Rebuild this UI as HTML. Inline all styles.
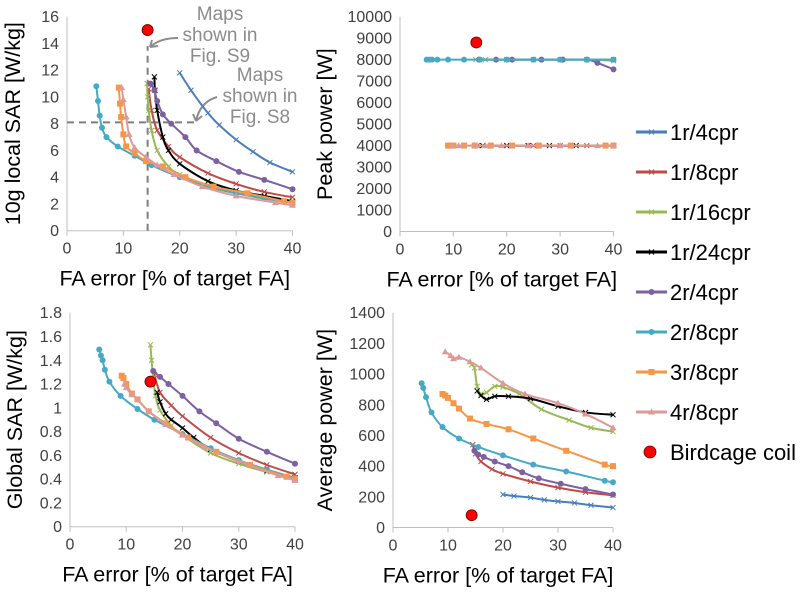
<!DOCTYPE html>
<html><head><meta charset="utf-8">
<style>
html,body{margin:0;padding:0;background:#fff;}
svg{display:block;font-family:"Liberation Sans",sans-serif;}
.tick{font-size:16px;fill:#404040;}
.title{font-size:21.5px;fill:#000;}
.leg{font-size:22px;fill:#000;}
.ann{font-size:19px;fill:#8c8c8c;}
</style></head>
<body>
<svg id="chart" width="800" height="593" viewBox="0 0 800 593" xmlns="http://www.w3.org/2000/svg"></svg>
<script>
// ---- data ----
const seriesNames = ["1r/4cpr","1r/8cpr","1r/16cpr","1r/24cpr","2r/4cpr","2r/8cpr","3r/8cpr","4r/8cpr"];
const seriesColors = ["#4a7ebb","#be4b48","#98b954","#000000","#7d60a0","#46aac5","#f79646","#dd9a98"];
const seriesMarkers = ["x","x","x","x","o","o","s","t"];

// Panel: 10g local SAR
const localSAR = [
 [[20,11.8],[22,10.5],[25,8.8],[27,7.9],[30,6.8],[33,5.9],[36,5.1],[40,4.4]],
 [[14.5,10.6],[15,9],[16,7.5],[18,6.3],[20,5.5],[25,4.3],[30,3.5],[35,2.9],[40,2.5]],
 [[14.2,11],[14.3,10],[14.5,9],[15,7.5],[16,6],[18,4.8],[20,4.2],[25,3.3],[30,2.8],[35,2.5],[40,2.2]],
 [[15.5,11.5],[15.6,10.5],[16,9],[17,7],[18,6],[20,5],[25,3.7],[30,3],[35,2.6],[40,2.2]],
 [[14.8,11],[15.5,10.5],[16,9.7],[17,8.7],[18.5,8],[21,7],[23,6],[26.5,5.2],[30.5,4.4],[35,3.8],[40,3.1]],
 [[5.2,10.8],[5.5,9.7],[5.8,8.6],[6.2,7.7],[7,7],[9,6.3],[12,5.6],[15,4.9],[20,4],[25,3.3],[30,2.8],[35,2.4],[40,2.1]],
 [[9.2,10.7],[9.4,9.5],[9.6,8.5],[10,7.2],[10.5,6.3],[12,5.8],[14,5.2],[17,4.8],[21,4],[26,3.3],[32,2.8],[38.5,2.2],[40,2.1]],
 [[9.7,10.7],[10,9.8],[10.5,8.5],[11,7.2],[12,6.2],[14,5.5],[16,4.9],[19,4.2],[24,3.3],[30,2.6],[37,2.1],[40,1.9]]
];
const localSARBirdcage = [14.3,15];
const localSARTicks = [0,2,4,6,8,10,12,14,16];

// Panel: peak power
const peakPower = [
 [[20,8000],[25,8000],[30,8000],[35,8000],[40,8000]],
 [[14.5,4000],[20,4000],[25,4000],[30,4000],[35,4000],[40,4000]],
 [[14.2,8000],[16,8000],[20,8000],[25,8000],[30,8000],[35,8000],[40,7950]],
 [[15.5,4000],[20,4000],[24,4000],[28,4000],[33,4000],[40,4000]],
 [[14.8,8000],[18,8000],[21,8000],[26.5,8000],[30.5,8000],[35,8000],[37,7850],[40,7550]],
 [[5,8000],[5.5,8000],[6,8000],[7,8000],[9,8000],[12,8000],[15,8000],[20,8000],[25,8000],[30,8000],[35,8000],[40,8000]],
 [[9,4000],[9.5,4000],[10,4000],[12,4000],[14,4000],[17,4000],[21,4000],[26,4000],[32,4000],[38.5,4000],[40,4000]],
 [[9.7,4000],[11,4000],[14,4000],[16,4000],[19,4000],[24,4000],[30,4000],[37,4000],[40,4000]]
];
const peakPowerBirdcage = [14.3,8800];
const peakPowerTicks = [0,1000,2000,3000,4000,5000,6000,7000,8000,9000,10000];

// Panel: global SAR
const globalSAR = [
 [],
 [[15,1.28],[16,1.13],[18,1.02],[20,0.93],[25,0.75],[30,0.62],[35,0.52],[40,0.44]],
 [[14.3,1.53],[14.5,1.4],[14.8,1.25],[15.2,1.1],[16,0.98],[18,0.85],[20,0.77],[25,0.62],[30,0.53],[35,0.46],[40,0.41]],
 [[15.5,1.13],[16,1.05],[17,0.95],[18,0.9],[20,0.83],[22,0.75],[25,0.65],[30,0.55],[35,0.47],[40,0.41]],
 [[14.8,1.31],[16,1.26],[17.5,1.2],[20,1.1],[23,0.97],[26,0.87],[30,0.74],[35,0.63],[40,0.53]],
 [[5.2,1.49],[5.5,1.44],[5.8,1.4],[6.2,1.32],[7,1.22],[9,1.1],[12,0.99],[15,0.9],[20,0.78],[25,0.66],[30,0.56],[35,0.48],[40,0.41]],
 [[9.2,1.27],[9.5,1.25],[10,1.2],[11,1.12],[12,1.07],[14,0.97],[17,0.87],[21,0.75],[26,0.63],[32,0.52],[38.5,0.42],[40,0.4]],
 [[9.7,1.2],[10,1.17],[11,1.11],[12,1.07],[14,0.97],[17,0.86],[20,0.77],[24,0.67],[30,0.55],[37,0.43],[40,0.39]]
];
const globalSARBirdcage = [14.3,1.22];
const globalSARTicks = [0,0.2,0.4,0.6,0.8,1,1.2,1.4,1.6,1.8];

// Panel: average power
const avgPower = [
 [[20,215],[22,205],[25,195],[27.5,180],[30,170],[33,160],[36,145],[40,130]],
 [[14.5,540],[15,480],[16,430],[18,380],[20,350],[25,300],[30,260],[35,230],[40,210]],
 [[14.3,1060],[14.8,1040],[15.3,920],[16,870],[17,880],[18.5,920],[20,915],[23,870],[27,770],[32,700],[36,650],[40,625]],
 [[15.3,890],[16,860],[17,835],[18.5,855],[21,855],[25,840],[30,790],[35,750],[40,735]],
 [[14.8,500],[15.5,475],[16.5,460],[18.5,430],[21,400],[23.5,360],[26.5,320],[30.5,285],[35,250],[40,215]],
 [[5.2,940],[5.5,910],[6,850],[7,750],[9,655],[12,580],[15.5,525],[20,470],[25.5,410],[31.5,365],[38.5,305],[40,295]],
 [[9,870],[9.5,860],[10,845],[11,810],[12,775],[14,710],[17,675],[21,640],[25.5,580],[31.5,500],[38.5,410],[40,400]],
 [[9.5,1145],[10.5,1120],[11,1100],[12,1110],[14,1080],[16,1040],[20,940],[24,870],[30,810],[35,740],[40,650]]
];
const avgPowerBirdcage = [14.3,80];
const avgPowerTicks = [0,200,400,600,800,1000,1200,1400];

const xTicks = [0,10,20,30,40];

// ---- drawing ----
const NS = "http://www.w3.org/2000/svg";
const svg = document.getElementById("chart");
function mk(tag, attrs, parent){
  const e = document.createElementNS(NS, tag);
  for (const k in attrs) e.setAttribute(k, attrs[k]);
  (parent||svg).appendChild(e);
  return e;
}
function smoothPath(pts){
  if (pts.length < 2) return "";
  let d = "M" + pts[0][0].toFixed(2) + "," + pts[0][1].toFixed(2);
  for (let i = 0; i < pts.length - 1; i++){
    const p0 = pts[i-1] || pts[i], p1 = pts[i], p2 = pts[i+1], p3 = pts[i+2] || p2;
    const t = 1/6;
    const c1 = [p1[0] + (p2[0]-p0[0])*t, p1[1] + (p2[1]-p0[1])*t];
    const c2 = [p2[0] - (p3[0]-p1[0])*t, p2[1] - (p3[1]-p1[1])*t];
    d += " C" + c1.join(",") + " " + c2.join(",") + " " + p2.join(",");
  }
  return d;
}
function marker(g, type, x, y, color){
  let m;
  if (type === "x"){
    m = mk("path", {d:`M${x-2.5},${y-2.5}L${x+2.5},${y+2.5}M${x-2.5},${y+2.5}L${x+2.5},${y-2.5}`, stroke:color, "stroke-width":1}, g);
  } else if (type === "o"){
    m = mk("circle", {cx:x, cy:y, r:3, fill:color}, g);
  } else if (type === "s"){
    m = mk("rect", {x:x-3, y:y-3, width:6, height:6, fill:color}, g);
  } else {
    m = mk("path", {d:`M${x},${y-3.5}L${x+3.5},${y+2.5}L${x-3.5},${y+2.5}Z`, fill:color}, g);
  }
  
  
}
function panel(cfg){
  const g = mk("g", {});
  
  
  const xs = v => cfg.x0 + (cfg.x1 - cfg.x0) * v / 40;
  const ys = v => cfg.y0 - (cfg.y0 - cfg.y1) * v / cfg.ymax;
  const ya = mk("line", {x1:cfg.x0, y1:cfg.y0, x2:cfg.x0, y2:cfg.y1, stroke:"#bfbfbf", "stroke-width":1}, g);
  
  
  const xa = mk("line", {x1:cfg.x0, y1:cfg.y0, x2:cfg.x1, y2:cfg.y0, stroke:"#bfbfbf", "stroke-width":1}, g);
  
  
  cfg.ticks.forEach(v => {
    const t = mk("text", {x:cfg.x0 - 8, y:ys(v) + 5.5, "text-anchor":"end", class:"tick"}, g);
    t.textContent = String(v);
    
    
  });
  xTicks.forEach(v => {
    mk("line", {x1:xs(v), y1:cfg.y0, x2:xs(v), y2:cfg.y0 + 5, stroke:"#bfbfbf"}, g);
    const t = mk("text", {x:xs(v), y:cfg.y0 + 23, "text-anchor":"middle", class:"tick"}, g);
    t.textContent = String(v);
    
    
  });
  const xt = mk("text", {x:(cfg.x0 + cfg.x1) / 2 - 5, y:cfg.y0 + 55, "text-anchor":"middle", class:"title"}, g);
  xt.textContent = "FA error [% of target FA]";
  
  
  const ty = (cfg.y0 + cfg.y1) / 2;
  const yt = mk("text", {x:cfg.ytx, y:ty, "text-anchor":"middle", class:"title", transform:`rotate(-90 ${cfg.ytx} ${ty})`}, g);
  yt.textContent = cfg.ytitle;
  
  
  if (cfg.extra) cfg.extra(g, xs, ys);
  cfg.data.forEach((s, i) => {
    if (!s.length) return;
    const sg = mk("g", {}, g);
    
    
    const pts = s.map(p => [xs(p[0]), ys(p[1])]);
    mk("path", {d:smoothPath(pts), fill:"none", stroke:seriesColors[i], "stroke-width":2}, sg);
    pts.forEach(p => marker(sg, seriesMarkers[i], p[0], p[1], seriesColors[i]));
  });
  const b = mk("circle", {cx:xs(cfg.bird[0]), cy:ys(cfg.bird[1]), r:5.5, fill:"#ff0000", stroke:"#600", "stroke-width":0.8}, g);
  
  
}

panel({name:"local-sar-panel", x0:67, x1:292.5, y0:230.7, y1:16.7, ymax:16, ticks:localSARTicks, data:localSAR, bird:localSARBirdcage, ytitle:"10g local SAR [W/kg]", ytx:20,
  extra:(g, xs, ys) => {
    const v = mk("line", {x1:xs(14.3), y1:ys(0), x2:xs(14.3), y2:ys(13.8), stroke:"#7f7f7f", "stroke-width":2, "stroke-dasharray":"7,5"}, g);
    
    
    const h = mk("line", {x1:xs(0), y1:ys(8.1), x2:xs(23), y2:ys(8.1), stroke:"#7f7f7f", "stroke-width":2, "stroke-dasharray":"7,5"}, g);
    
    
    const a1 = mk("path", {d:"M178,38 Q160,38 150,47 M150,47 l8,-1 M150,47 l2,-7", stroke:"#8c8c8c", "stroke-width":2, fill:"none"}, g);
    
    
    const a2 = mk("path", {d:"M217,97 Q200,102 196,121 M196,121 l-3,-7 M196,121 l6,-5", stroke:"#8c8c8c", "stroke-width":2, fill:"none"}, g);
    
    
    [["Maps",220,20],["shown in",220,41],["Fig. S9",220,62]].forEach(r => {
      const t = mk("text", {x:r[1], y:r[2], "text-anchor":"middle", class:"ann"}, g);
      t.textContent = r[0];
      
      
    });
    [["Maps",260,81],["shown in",260,102],["Fig. S8",260,123]].forEach(r => {
      const t = mk("text", {x:r[1], y:r[2], "text-anchor":"middle", class:"ann"}, g);
      t.textContent = r[0];
      
      
    });
  }});
panel({name:"peak-power-panel", x0:400, x1:613.5, y0:231.5, y1:16.7, ymax:10000, ticks:peakPowerTicks, data:peakPower, bird:peakPowerBirdcage, ytitle:"Peak power [W]", ytx:332});
panel({name:"global-sar-panel", x0:70, x1:295, y0:526.7, y1:312.7, ymax:1.8, ticks:globalSARTicks, data:globalSAR, bird:globalSARBirdcage, ytitle:"Global SAR [W/kg]", ytx:22});
panel({name:"average-power-panel", x0:393, x1:613, y0:527.5, y1:312.7, ymax:1400, ticks:avgPowerTicks, data:avgPower, bird:avgPowerBirdcage, ytitle:"Average power [W]", ytx:332});

const lg = mk("g", {});


seriesNames.forEach((n, i) => {
  const y = 132 + i * 40;
  const eg = mk("g", {}, lg);
  
  
  mk("line", {x1:636, y1:y, x2:667, y2:y, stroke:seriesColors[i], "stroke-width":3}, eg);
  marker(eg, seriesMarkers[i], 651.5, y, seriesColors[i]);
  const t = mk("text", {x:670, y:y + 8, class:"leg"}, eg);
  t.textContent = n;
});
const be = mk("g", {}, lg);


mk("circle", {cx:650, cy:452, r:6, fill:"#ff0000", stroke:"#600", "stroke-width":0.8}, be);
const bt = mk("text", {x:670, y:460, class:"leg"}, be);
bt.textContent = "Birdcage coil";
</script>
</body></html>
